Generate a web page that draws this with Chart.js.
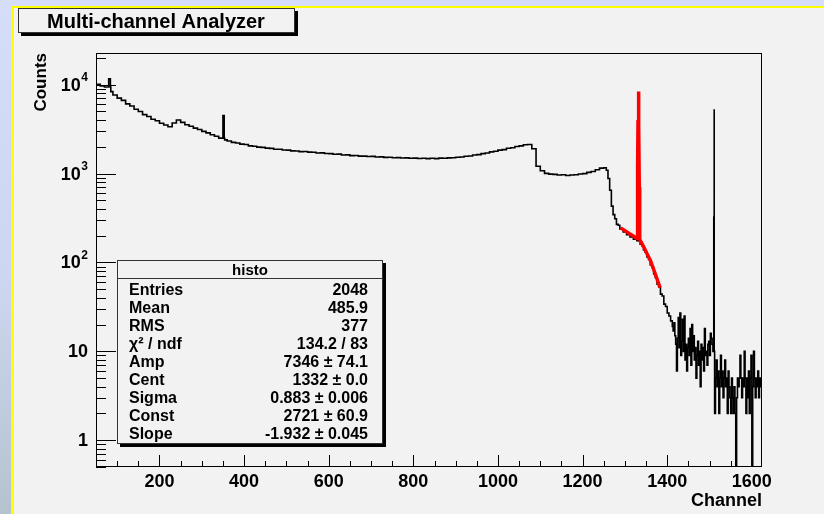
<!DOCTYPE html>
<html>
<head>
<meta charset="utf-8">
<script src="https://cdn.jsdelivr.net/npm/chart.js@4.4.0/dist/chart.umd.min.js"></script>
<style>
  html, body { margin: 0; padding: 0; background: #f2f2f2; }
  canvas { display: block; }
</style>
</head>
<body>
<canvas id="mca" width="824" height="514"></canvas>
<script>
// spectrum, continuum part: bins of 10 channels starting at channel 50
const contStart = 50, contStep = 10;
const contCounts = [
  10400, 10100, 9650, 9400, 8350, 7650, 7050, 6650, 6080, 5750,
  5280, 4980, 4600, 4380, 4080, 3920, 3680, 3520, 3360, 3700,
  4000, 3760, 3540, 3400, 3240, 3130, 2980, 2870, 2730, 2630,
  2500, 2390, 2320, 2240, 2210, 2140, 2120, 2050, 2030, 1980,
  1970, 1930, 1920, 1880, 1875, 1840, 1835, 1800, 1795, 1765,
  1770, 1740, 1735, 1705, 1710, 1680, 1675, 1650, 1655, 1615,
  1620, 1590, 1595, 1570, 1572, 1555, 1560, 1535, 1540, 1520,
  1528, 1505, 1512, 1495, 1502, 1485, 1492, 1478, 1486, 1470,
  1484, 1472, 1490, 1486, 1500, 1505, 1526, 1534, 1565, 1578,
  1615, 1632, 1675, 1700, 1752, 1780, 1835, 1860, 1925, 1950,
  2015, 2050, 2110, 2125, 1900, 1210, 1075, 1005, 985, 978,
  962, 968, 950, 962, 968, 990, 998, 1030, 1055, 1105,
  1150
];
// Compton edge and fit region: bins of 4 channels
const edgeStart = 1256, edgeStep = 4;
const edgeCounts = [
  1160, 1090, 880, 650, 430, 345, 310, 268, 262, 238,
  236, 220, 222, 205, 208, 194, 196, 182, 186, 176,
  174, 160, 154, 138, 130, 115, 108, 94, 88, 74,
  68, 57, 53, 44, 42, 34, 32, 27, 25
];
// noisy tail: bins of 2 channels
const tailStart = 1412, tailStep = 2;
const tailCounts = [
  22, 19, 17, 21, 15, 12, 6, 14, 24, 11,
  27, 9, 13, 23, 10, 25, 8, 12, 6, 11,
  14, 9, 18, 7, 20, 10, 15, 8, 11, 5,
  9, 13, 7, 10, 4, 12, 8, 11, 6, 18,
  9, 10, 7, 12, 13, 9, 16, 14, 12, 10,
  8, 2, 5, 8, 4, 6, 2, 5, 9, 4,
  6, 3, 5, 8, 4, 5, 2, 6, 4, 3,
  2, 5, 3, 2, 4, 2, 0, 3, 5, 4,
  5, 9, 5, 3, 5, 4, 10, 5, 2, 5,
  3, 6, 2, 5, 9, 0, 4, 10, 5, 3,
  5, 4, 6, 3, 5, 4, 4
];
// single-channel lines
const lineCh = [84, 353, 1332, 1510, 1511];
const lineCounts = [11600, 4500, 7400, 330, 5300];

// gaus + expo fit drawn in red
const fitCh = [1290, 1300, 1310, 1320, 1326, 1329, 1330, 1331, 1332, 1333, 1334, 1335, 1338, 1345, 1352, 1360, 1367, 1375, 1383];
const fitCounts = [245, 228, 212, 198, 189, 186, 1150, 4000, 8400, 3600, 700, 182, 170, 148, 126, 106, 86, 67, 52];

// axes
const xMin = 50, xMax = 1624;
const xTickValues = [200, 400, 600, 800, 1000, 1200, 1400, 1600];
const yMin = 0.5, yMax = 22700;
const yTickValues = [1, 10, 100, 1000, 10000];
const yTickBase = ['1', '10', '10', '10', '10'];
const yTickExp = ['', '', '2', '3', '4'];

// statistics box
const statNames = ['Entries', 'Mean', 'RMS', '\u03C7\u00B2 / ndf', 'Amp', 'Cent', 'Sigma', 'Const', 'Slope'];
const statValues = ['2048', '485.9', '377', '134.2 / 83', '7346 \u00B1 74.1', '1332 \u00B1 0.0', '0.883 \u00B1 0.006', '2721 \u00B1 60.9', '-1.932 \u00B1 0.045'];

const FONT = "'Liberation Sans', Arial, Helvetica, sans-serif";

function segmentPoints(start, step, counts) {
  // empty bins sit on the axis floor, as in the original
  return counts.map((c, i) => ({ x: start + i * step, y: c > 0 ? c : yMin }));
}

let histPoints = [].concat(
  segmentPoints(contStart, contStep, contCounts),
  segmentPoints(edgeStart, edgeStep, edgeCounts),
  segmentPoints(tailStart, tailStep, tailCounts)
);
lineCh.forEach((ch, k) => {
  let idx = 0;
  for (let i = 0; i < histPoints.length; i++) if (histPoints[i].x <= ch) idx = i;
  const base = histPoints[idx].y;
  histPoints.splice(idx + 1, 0, { x: ch, y: lineCounts[k] }, { x: ch + 1, y: base });
});
const fitPoints = fitCh.map((c, i) => ({ x: c, y: fitCounts[i] }));

const backgroundPlugin = {
  id: 'rootCanvas',
  beforeDraw(chart) {
    const c = chart.ctx;
    c.save();
    c.fillStyle = '#d5ddf8';
    c.fillRect(0, 0, 824, 514);
    const g = c.createLinearGradient(0, 0, 0, 514);
    g.addColorStop(0, '#d5ddf8');
    g.addColorStop(0.55, '#ccd6f0');
    g.addColorStop(1, '#b5c3cf');
    c.fillStyle = g;
    c.fillRect(0, 0, 11, 514);
    c.fillStyle = '#ffff00';
    c.fillRect(11, 6, 813, 2);
    c.fillRect(11, 6, 3, 508);
    c.fillStyle = '#f2f2f2';
    c.fillRect(14, 8, 810, 506);
    c.restore();
  }
};

const decorPlugin = {
  id: 'rootDecor',
  afterDraw(chart) {
    const c = chart.ctx;
    const a = chart.chartArea;
    const xs = chart.scales.x, ys = chart.scales.y;
    c.save();
    c.strokeStyle = '#000';
    c.lineWidth = 1;
    // frame
    c.strokeRect(Math.round(a.left) + 0.5, Math.round(a.top) + 0.5,
      Math.round(a.right - a.left) - 1, Math.round(a.bottom - a.top) - 1);
    // x ticks (inside)
    c.beginPath();
    for (let v = 100; v < xMax; v += 50) {
      const px = Math.round(xs.getPixelForValue(v)) + 0.5;
      const len = v % 200 === 0 ? 12 : 6;
      c.moveTo(px, a.bottom);
      c.lineTo(px, a.bottom - len);
    }
    // y ticks (inside)
    for (let d = 0.1; d <= 10000; d *= 10) {
      for (let k = 1; k <= 9; k++) {
        const v = k * d;
        if (v < yMin || v > yMax) continue;
        const py = Math.round(ys.getPixelForValue(v)) + 0.5;
        const len = k === 1 ? 20 : 10;
        c.moveTo(a.left, py);
        c.lineTo(a.left + len, py);
      }
    }
    c.stroke();

    // y labels with raised exponents
    c.fillStyle = '#000';
    c.textBaseline = 'middle';
    yTickValues.forEach((v, i) => {
      const py = ys.getPixelForValue(v);
      let right = a.left - 8;
      if (yTickExp[i]) {
        c.font = 'bold 12px ' + FONT;
        c.textAlign = 'right';
        c.fillText(yTickExp[i], right, py - 7);
        right -= c.measureText(yTickExp[i]).width + 0.5;
      }
      c.font = 'bold 18px ' + FONT;
      c.textAlign = 'right';
      c.fillText(yTickBase[i], right, py + 1);
    });

    // title box
    c.textBaseline = 'alphabetic';
    c.fillStyle = '#000';
    c.fillRect(21, 11, 277, 25);
    c.fillStyle = '#f2f2f2';
    c.fillRect(18, 8, 277, 25);
    c.strokeStyle = '#333';
    c.strokeRect(18.5, 8.5, 276, 24);
    c.fillStyle = '#000';
    c.font = 'bold 20px ' + FONT;
    c.textAlign = 'center';
    c.fillText('Multi-channel Analyzer', 156, 27.5);

    // stats box
    const bx = 117, by = 260, bw = 266, bh = 184;
    c.fillStyle = '#000';
    c.fillRect(bx + 3, by + 3, bw, bh);
    c.fillStyle = '#f2f2f2';
    c.fillRect(bx, by, bw, bh);
    c.strokeStyle = '#333';
    c.strokeRect(bx + 0.5, by + 0.5, bw - 1, bh - 1);
    c.beginPath();
    c.moveTo(bx, by + 18.5);
    c.lineTo(bx + bw, by + 18.5);
    c.stroke();
    c.fillStyle = '#000';
    c.font = 'bold 15px ' + FONT;
    c.textAlign = 'center';
    c.fillText('histo', bx + bw / 2, by + 15);
    c.font = 'bold 16px ' + FONT;
    statNames.forEach((name, i) => {
      const yy = 295 + i * 18.04;
      c.textAlign = 'left';
      c.fillText(name, 129, yy);
      c.textAlign = 'right';
      c.fillText(statValues[i], 368, yy);
    });
    c.restore();
  }
};

new Chart(document.getElementById('mca'), {
  type: 'line',
  data: {
    datasets: [
      {
        label: 'fit',
        data: fitPoints,
        borderColor: '#ff0000',
        borderWidth: 3.5,
        pointRadius: 0,
        tension: 0,
        fill: false
      },
      {
        label: 'histo',
        data: histPoints,
        borderColor: '#000000',
        borderWidth: 1.6,
        pointRadius: 0,
        stepped: 'after',
        fill: false
      }
    ]
  },
  options: {
    responsive: false,
    animation: false,
    devicePixelRatio: 1,
    events: [],
    layout: { padding: { top: 53, right: 62, left: 0, bottom: 0 } },
    plugins: { legend: { display: false }, tooltip: { enabled: false } },
    scales: {
      x: {
        type: 'linear',
        min: xMin,
        max: xMax,
        grid: { display: false, drawTicks: false },
        border: { display: false },
        afterBuildTicks: s => { s.ticks = xTickValues.map(v => ({ value: v })); },
        ticks: {
          autoSkip: false,
          maxRotation: 0,
          padding: 4,
          color: '#000',
          font: { family: FONT, weight: 'bold', size: 18 },
          callback: v => String(v)
        },
        title: {
          display: true,
          text: 'Channel',
          align: 'end',
          color: '#000',
          font: { family: FONT, weight: 'bold', size: 18 },
          padding: { top: 0, bottom: 2 }
        },
        afterFit: s => { s.height = 47; }
      },
      y: {
        type: 'logarithmic',
        min: yMin,
        max: yMax,
        grid: { display: false, drawTicks: false },
        border: { display: false },
        afterBuildTicks: s => { s.ticks = yTickValues.map(v => ({ value: v })); },
        ticks: { display: false },
        title: {
          display: true,
          text: 'Counts',
          align: 'end',
          color: '#000',
          font: { family: FONT, weight: 'bold', size: 17 },
          padding: { top: 31, bottom: 0 }
        },
        afterFit: s => { s.width = 96; }
      }
    }
  },
  plugins: [backgroundPlugin, decorPlugin]
});
</script>
</body>
</html>
